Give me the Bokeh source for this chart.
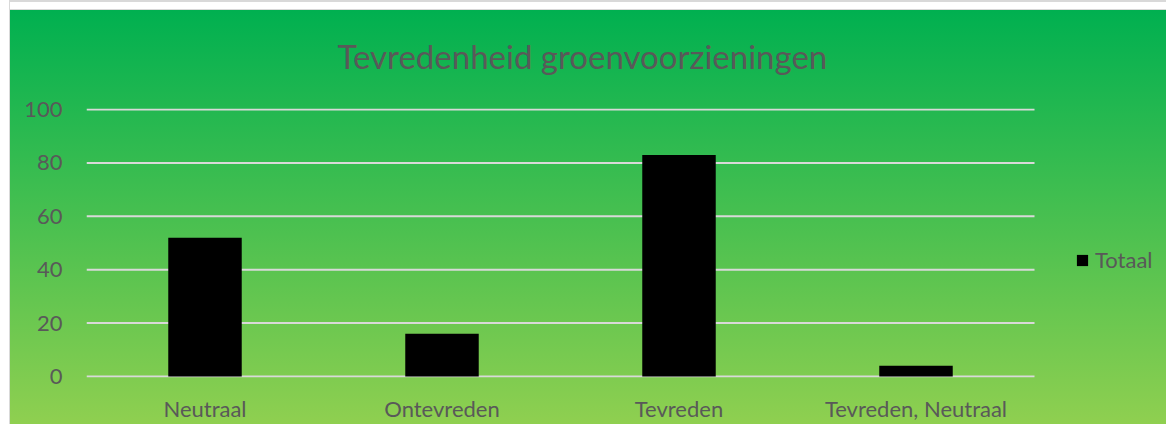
import numpy as np
from bokeh.plotting import figure
from bokeh.models import Legend, LegendItem, Title, ColumnDataSource, FixedTicker, Range1d
from bokeh.embed import file_html
from bokeh.resources import INLINE

categories = ["Neutraal", "Ontevreden", "Tevreden", "Tevreden, Neutraal"]
totaal = [52, 16, 83, 4]
y_ticks = [0, 20, 40, 60, 80, 100]

FONT = "Lato"
GREY = "#595959"

xpos = (np.arange(len(categories)) + 0.5).tolist()
src = ColumnDataSource(dict(x=xpos, cat=categories, val=totaal))

# frame spans 1080 px; each category slot is 237 px wide
p = figure(x_range=Range1d(0, 1080 / 237), y_range=Range1d(-0.4, 100.4),
           width=1166, height=424,
           output_backend="svg", toolbar_location=None,
           min_border_left=86, min_border_right=0, min_border_top=108,
           min_border_bottom=47)
p.styles = {"background": (
    "linear-gradient(to right, #ffffff 0px, #ffffff 9px, #d9d9d9 9px, #d9d9d9 10px, rgba(0,0,0,0) 10px), "
    "linear-gradient(to bottom, #d9d9d9 0px, #d9d9d9 2px, #ffffff 2px, #ffffff 9px, #d9d9d9 9px, #d9d9d9 10px, rgba(0,0,0,0) 10px), "
    "linear-gradient(to bottom, #00b050 10px, #92d050 432px)")}
p.background_fill_alpha = 0
p.border_fill_alpha = 0
p.outline_line_color = None

# horizontal gridlines over the category area only
p.segment(x0=0, x1=len(categories), y0=y_ticks, y1=y_ticks,
          line_color="#d9d9d9", line_width=2)

r = p.vbar(x="x", top="val", width=0.31, source=src, fill_color="black", line_color=None)

p.title = None
t = Title(text="Tevredenheid groenvoorzieningen", align="left", offset=251,
          text_font=FONT, text_font_size="33px", text_font_style="normal",
          text_color=GREY, standoff=66)
p.add_layout(t, "above")

p.xgrid.grid_line_color = None
p.ygrid.grid_line_color = None
p.yaxis.ticker = FixedTicker(ticks=y_ticks)
p.xaxis.ticker = FixedTicker(ticks=xpos)
p.xaxis.major_label_overrides = {x: c for x, c in zip(xpos, categories)}
for ax in (p.xaxis, p.yaxis):
    ax.axis_line_color = None
    ax.major_tick_line_color = None
    ax.minor_tick_line_color = None
    ax.major_label_text_font = FONT
    ax.major_label_text_font_size = "22px"
    ax.major_label_text_color = GREY
p.yaxis.major_label_standoff = 18
p.xaxis.major_label_standoff = 11

legend = Legend(items=[LegendItem(label="Totaal", renderers=[r])],
                location=(989, 104), padding=0, margin=0, border_line_alpha=0,
                background_fill_alpha=0, glyph_width=14, glyph_height=14,
                label_text_font=FONT, label_text_font_size="22px",
                label_text_color=GREY, label_standoff=6)
p.add_layout(legend, "center")

open("out.html", "w").write(file_html(p, INLINE))
